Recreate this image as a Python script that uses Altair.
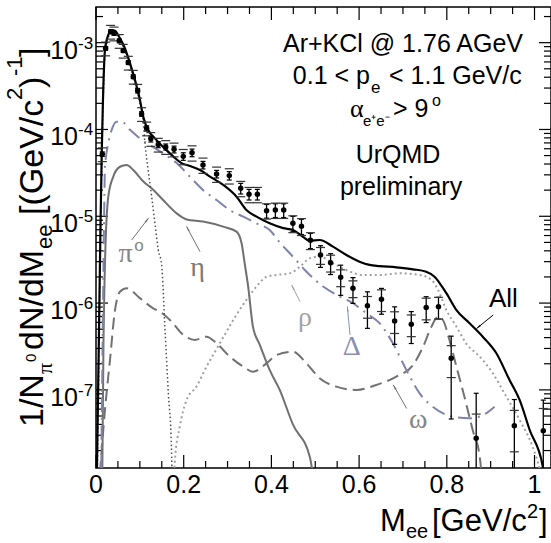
import math
import altair as alt
import pandas as pd

# ---------------- data ----------------
# "All" (black solid)
all_x = [0.002, 0.006, 0.010, 0.013, 0.0153, 0.0205, 0.028, 0.0358, 0.0433, 0.0547,
         0.066, 0.0774, 0.0888, 0.1002, 0.1077, 0.119, 0.1344, 0.153, 0.176, 0.195,
         0.214, 0.237, 0.26, 0.29, 0.3205, 0.343, 0.366, 0.396, 0.427, 0.449,
         0.472, 0.487, 0.51, 0.5405, 0.571, 0.601, 0.624, 0.647, 0.685, 0.723,
         0.753, 0.772, 0.784, 0.799, 0.822, 0.852, 0.882, 0.913, 0.943, 0.966,
         0.989, 1.019, 1.025]
all_y = [1.1e-8, 2.5e-7, 6.3e-6, 5.0e-5, 1.68e-4, 8.24e-4, 1.23e-3, 1.40e-3, 1.37e-3, 1.12e-3,
         8.6e-4, 5.8e-4, 3.72e-4, 2.19e-4, 1.40e-4, 9.86e-5, 7.9e-5, 6.3e-5, 4.9e-5, 4.1e-5,
         3.8e-5, 3.41e-5, 2.86e-5, 2.30e-5, 1.68e-5, 1.18e-5, 9.9e-6, 8.3e-6, 7.3e-6, 6.95e-6,
         5.8e-6, 5.24e-6, 5.33e-6, 4.47e-6, 3.58e-6, 3.0e-6, 2.75e-6, 2.67e-6, 2.58e-6, 2.45e-6,
         2.30e-6, 2.01e-6, 1.69e-6, 1.30e-6, 8.3e-7, 5.85e-7, 4.1e-7, 2.64e-7, 1.30e-7, 7.66e-8,
         3.45e-8, 1.3e-8, 1e-9]

# pi0 Dalitz (dark dotted)
pi0_x = [0.003, 0.007, 0.010, 0.013, 0.0155, 0.0205, 0.028, 0.0358, 0.0433, 0.0547,
         0.066, 0.0774, 0.0888, 0.1002, 0.1077, 0.1116, 0.119, 0.127, 0.1344, 0.142,
         0.1496, 0.157, 0.165, 0.172, 0.176]
pi0_y = [1e-8, 3.2e-7, 5e-6, 4e-5, 1.41e-4, 7.6e-4, 1.15e-3, 1.32e-3, 1.29e-3, 1.06e-3,
         8.1e-4, 5.5e-4, 3.47e-4, 2.0e-4, 1.2e-4, 6.9e-5, 3.4e-5, 1.68e-5, 8.3e-6, 4.1e-6,
         2.8e-6, 5.4e-7, 9.1e-8, 2.2e-8, 1e-9]

# eta (grey solid)
eta_x = [0.0145, 0.017, 0.0205, 0.028, 0.0394, 0.0547, 0.07, 0.085, 0.108, 0.131,
         0.153, 0.184, 0.2066, 0.244, 0.29, 0.3205, 0.332, 0.339, 0.347, 0.358,
         0.3736, 0.396, 0.419, 0.449, 0.4875, 0.515]
eta_y = [1.26e-8, 3.2e-7, 2.88e-6, 1.68e-5, 2.86e-5, 3.72e-5, 3.9e-5, 3.41e-5, 2.51e-5, 2.01e-5,
         1.54e-5, 1.08e-5, 9.2e-6, 8.7e-6, 7.6e-6, 6.65e-6, 4.9e-6, 2.88e-6, 1.55e-6, 5.3e-7,
         3.3e-7, 1.7e-7, 1.0e-7, 4.0e-8, 1.7e-8, 1e-9]

# Delta (blue-grey dash-dot)
delta_x = [0.012, 0.015, 0.018, 0.0205, 0.028, 0.0358, 0.047, 0.0585, 0.0774, 0.1,
           0.123, 0.153, 0.184, 0.214, 0.244, 0.275, 0.305, 0.336, 0.366, 0.396,
           0.419, 0.449, 0.48, 0.518, 0.556, 0.586, 0.617, 0.647, 0.677, 0.708,
           0.738, 0.768, 0.814, 0.852, 0.882, 0.909]
delta_y = [1.26e-8, 3.2e-7, 6.3e-6, 3.7e-5, 6.9e-5, 9.9e-5, 1.23e-4, 1.23e-4, 9.9e-5, 7.9e-5,
           6.6e-5, 5.3e-5, 4.1e-5, 2.86e-5, 2.01e-5, 1.54e-5, 1.18e-5, 9.9e-6, 8.3e-6, 6.95e-6,
           5.0e-6, 3.43e-6, 2.3e-6, 1.55e-6, 1.19e-6, 9.95e-7, 7.6e-7, 5.85e-7, 3.44e-7, 1.69e-7,
           9.1e-8, 6.4e-8, 4.9e-8, 4.7e-8, 5.1e-8, 6.4e-8]

# omega (grey dashed)
omega_x = [0.009, 0.0205, 0.0319, 0.0433, 0.0547, 0.07, 0.1, 0.1305, 0.1458, 0.1686,
           0.199, 0.2255, 0.252, 0.275, 0.305, 0.336, 0.358, 0.389, 0.412, 0.449,
           0.48, 0.51, 0.548, 0.594, 0.639, 0.685, 0.723, 0.746, 0.765, 0.78,
           0.791, 0.806, 0.822, 0.84, 0.859, 0.875, 0.885]
omega_y = [1.1e-8, 5.9e-8, 2.21e-7, 8.3e-7, 1.35e-6, 1.48e-6, 1.14e-6, 8.7e-7, 7.96e-7, 6.4e-7,
           4.3e-7, 3.76e-7, 4.1e-7, 3.44e-7, 2.42e-7, 1.85e-7, 1.62e-7, 2.02e-7, 2.52e-7, 2.75e-7,
           2.02e-7, 1.36e-7, 1.09e-7, 9.98e-8, 1.14e-7, 1.42e-7, 1.94e-7, 3.15e-7, 5.35e-7, 6.97e-7,
           6.38e-7, 3.76e-7, 1.85e-7, 8.4e-8, 3.45e-8, 1.7e-8, 5e-9]

# rho (light grey dotted)
rho_x = [0.176, 0.18, 0.191, 0.2066, 0.229, 0.252, 0.2825, 0.313, 0.343, 0.366,
         0.389, 0.4116, 0.442, 0.465, 0.4875, 0.51, 0.5405, 0.571, 0.609, 0.647,
         0.692, 0.738, 0.765, 0.78, 0.799, 0.822, 0.844, 0.875, 0.905, 0.9355,
         0.966, 0.996, 1.015]
rho_y = [5e-9, 1.56e-8, 3.77e-8, 7.66e-8, 1.09e-7, 1.85e-7, 3.44e-7, 6.38e-7, 1.09e-6, 1.55e-6,
         2.01e-6, 2.11e-6, 2.2e-6, 2.62e-6, 3.28e-6, 3.43e-6, 2.87e-6, 2.4e-6, 2.11e-6, 2.11e-6,
         2.2e-6, 2.11e-6, 1.85e-6, 1.42e-6, 8.3e-7, 5.35e-7, 3.44e-7, 2.42e-7, 1.55e-7, 8.4e-8,
         4.5e-8, 2.2e-8, 1.1e-8]

# HADES data points
pts_x = [0.0144, 0.022, 0.0334, 0.041, 0.053, 0.062, 0.0736, 0.085, 0.095, 0.104,
         0.1155, 0.125, 0.142, 0.159, 0.178, 0.199, 0.219, 0.244, 0.275, 0.304,
         0.330, 0.349, 0.368, 0.389, 0.409, 0.428, 0.449, 0.4685, 0.489, 0.512,
         0.535, 0.558, 0.586, 0.619, 0.651, 0.681, 0.719, 0.753, 0.781, 0.810,
         0.867, 0.954, 1.020]
pts_y = [5.2e-5, 8.6e-4, 1.34e-3, 1.28e-3, 1.05e-3, 8.1e-4, 5.9e-4, 4.06e-4, 2.8e-4, 1.51e-4,
         1.03e-4, 7.8e-5, 6.7e-5, 6.3e-5, 5.9e-5, 4.9e-5, 5.4e-5, 3.9e-5, 3.07e-5, 2.94e-5,
         2.1e-5, 1.79e-5, 1.79e-5, 1.16e-5, 1.18e-5, 1.18e-5, 8.3e-6, 7.7e-6, 5.3e-6, 3.58e-6,
         2.92e-6, 1.98e-6, 1.48e-6, 9.3e-7, 1.11e-6, 6.2e-7, 5.7e-7, 8.9e-7, 9.1e-7, 2.31e-7,
         2.77e-8, 3.87e-8, 3.39e-8]
pts_stat = [0.06, 0.05, 0.05, 0.05, 0.05, 0.05, 0.05, 0.05, 0.06, 0.06,
            0.07, 0.08, 0.08, 0.08, 0.09, 0.10, 0.10, 0.10, 0.10, 0.11,
            0.14, 0.14, 0.14, 0.18, 0.18, 0.18, 0.20, 0.20, 0.20, 0.28,
            0.27, 0.38, 0.33, 0.45, 0.33, 0.46, 0.40, 0.33, 0.28, 0.80,
            2.3, 1.0, 1.25]
pts_sys = [0.18, 0.18, 0.18, 0.18, 0.18, 0.18, 0.18, 0.18, 0.18, 0.18,
           0.18, 0.18, 0.18, 0.18, 0.18, 0.20, 0.20, 0.20, 0.20, 0.20,
           0.20, 0.20, 0.20, 0.20, 0.20, 0.20, 0.22, 0.22, 0.22, 0.22,
           0.22, 0.22, 0.22, 0.28, 0.28, 0.28, 0.28, 0.28, 0.28, 0.40,
           0.9, 0.5, 0.8]

# axis tick values / labels
x_major = [0, 0.2, 0.4, 0.6, 0.8, 1.0]
x_labels = ["0", "0.2", "0.4", "0.6", "0.8", "1"]
x_minor = [0.05, 0.1, 0.15, 0.25, 0.3, 0.35, 0.45, 0.5, 0.55, 0.65, 0.7, 0.75, 0.85, 0.9, 0.95]
y_major = [1e-7, 1e-6, 1e-5, 1e-4, 1e-3]
y_exp = ["-7", "-6", "-5", "-4", "-3"]

# curve labels (data coordinates) and arrows (tail -> head)
lab_text = ["π", "η", "ρ", "Δ", "ω"]
lab_x = [0.0673, 0.2315, 0.4766, 0.583, 0.735]
lab_y = [3.68e-6, 2.54e-6, 6.7e-7, 3.1e-7, 4.5e-8]
lab_col = ["#858585", "#7a7a7a", "#a3a3a3", "#8a8eb8", "#858585"]

arr_x1 = [0.0814, 0.2372, 0.4652, 0.5793, 0.7085, 0.906]
arr_y1 = [5.33e-6, 3.91e-6, 1.04e-6, 4.3e-7, 6.1e-8, 7.3e-7]
arr_x2 = [0.1195, 0.2066, 0.4463, 0.5732, 0.678, 0.868]
arr_y2 = [9.5e-6, 7.6e-6, 1.61e-6, 9.1e-7, 1.14e-7, 5.1e-7]
arr_col = ["#707070", "#707070", "#a3a3a3", "#8a8eb8", "#707070", "#000000"]

# ---------------- layout ----------------
W, H = 455, 461
LEFT, TOP = 96, 7
X_MAX = 1.0376
Y_MIN, Y_MAX = 1.259e-8, 2.576e-3
SANS = "Liberation Sans"
SERIF = "Liberation Serif"

xs = alt.Scale(domain=[0, X_MAX], nice=False, zero=False)
ys = alt.Scale(type="log", domain=[Y_MIN, Y_MAX], nice=False)


def X(f="x"):
    return alt.X(f"{f}:Q", scale=xs, axis=None)


def Y(f="y"):
    return alt.Y(f"{f}:Q", scale=ys, axis=None)


LY = math.log10(Y_MAX) - math.log10(Y_MIN)


def to_px(x, y):
    return x / X_MAX * W, (math.log10(Y_MAX) - math.log10(y)) / LY * H


def from_px(px, py):
    return px / W * X_MAX, 10 ** (math.log10(Y_MAX) - py / H * LY)


dummy = pd.DataFrame({"a": [0]})
layers = []


# inward ticks on all four sides
def rules_x(vals, length):
    d = pd.DataFrame({"v": vals})
    b = alt.Chart(d).mark_rule(color="black", strokeWidth=1.2).encode(
        x=X("v"), y=alt.value(H), y2=alt.value(H - length))
    t = alt.Chart(d).mark_rule(color="black", strokeWidth=1.2).encode(
        x=X("v"), y=alt.value(0), y2=alt.value(length))
    return [b, t]


def rules_y(vals, length):
    d = pd.DataFrame({"v": vals})
    l = alt.Chart(d).mark_rule(color="black", strokeWidth=1.2).encode(
        y=Y("v"), x=alt.value(0), x2=alt.value(length))
    r = alt.Chart(d).mark_rule(color="black", strokeWidth=1.2).encode(
        y=Y("v"), x=alt.value(W), x2=alt.value(W - length))
    return [l, r]


y_minor = [k * 10.0 ** n for n in range(-8, -2) for k in range(2, 10)
           if Y_MIN < k * 10.0 ** n < Y_MAX]

layers += rules_x(x_major, 13)
layers += rules_x(x_minor, 7)
layers += rules_y(y_major, 12)
layers += rules_y(y_minor, 7)


def curve(xv, yv, color, width, dash=None):
    df = pd.DataFrame({"x": xv, "y": yv})
    kw = dict(color=color, strokeWidth=width, clip=True, interpolate="monotone")
    if dash:
        kw["strokeDash"] = dash
    return alt.Chart(df).mark_line(**kw).encode(x=X(), y=Y())


layers.append(curve(rho_x, rho_y, "#a0a0a0", 2, [2, 3]))
layers.append(curve(omega_x, omega_y, "#727272", 2, [12, 6]))
layers.append(curve(eta_x, eta_y, "#707070", 2))
layers.append(curve(delta_x, delta_y, "#7f84ab", 2, [14, 6, 2, 6]))
layers.append(curve(pi0_x, pi0_y, "#505050", 1.5, [1.5, 2.5]))
layers.append(curve(all_x, all_y, "black", 2.2))

# data points with statistical bars and systematic ticks
pts = pd.DataFrame({"x": pts_x, "y": pts_y, "stat": pts_stat, "sys": pts_sys})
pts["lo"] = (pts["y"] * (1 - pts["stat"])).clip(lower=1e-11)
pts["hi"] = pts["y"] * (1 + pts["stat"])
layers.append(alt.Chart(pts).mark_rule(color="black", strokeWidth=1.3, clip=True).encode(
    x=X(), y=Y("lo"), y2="hi:Q"))

caps = pd.concat([pd.DataFrame({"x": pts["x"], "v": pts["hi"]}),
                  pd.DataFrame({"x": pts["x"], "v": pts["lo"]})])
caps = caps[caps["v"] > Y_MIN * 1.05]
layers.append(alt.Chart(caps).mark_tick(orient="horizontal", size=5, thickness=1.2,
                                        color="black", opacity=1, clip=True).encode(
    x=X(), y=Y("v")))

sysd = pd.concat([pd.DataFrame({"x": pts["x"], "v": pts["y"] * (1 + pts["sys"])}),
                  pd.DataFrame({"x": pts["x"], "v": pts["y"] * (1 - pts["sys"])})])
sysd = sysd[sysd["v"] > Y_MIN * 1.05]
layers.append(alt.Chart(sysd).mark_tick(orient="horizontal", size=9, thickness=1.2,
                                        color="#333333", opacity=1, clip=True).encode(
    x=X(), y=Y("v")))

layers.append(alt.Chart(pts).mark_circle(size=30, color="black", opacity=1).encode(
    x=X(), y=Y()))

# arrows
rows = []
for x1, y1, x2, y2, c in zip(arr_x1, arr_y1, arr_x2, arr_y2, arr_col):
    p1 = to_px(x1, y1)
    p2 = to_px(x2, y2)
    dx, dy = p2[0] - p1[0], p2[1] - p1[1]
    L = math.hypot(dx, dy)
    ang = math.degrees(math.atan2(dx, -dy)) % 360
    hc = from_px(p2[0] - 3 * dx / L, p2[1] - 3 * dy / L)
    rows.append({"x1": x1, "y1": y1, "x2": x2, "y2": y2, "hx": hc[0], "hy": hc[1],
                 "ang": ang, "c": c})
arr = pd.DataFrame(rows)
layers.append(alt.Chart(arr).mark_rule(strokeWidth=1).encode(
    x=X("x1"), y=Y("y1"), x2="x2:Q", y2="y2:Q", color=alt.Color("c:N", scale=None)))
layers.append(alt.Chart(arr).mark_point(shape="wedge", filled=True, size=45, opacity=1).encode(
    x=X("hx"), y=Y("hy"), angle=alt.Angle("ang:Q", scale=None),
    color=alt.Color("c:N", scale=None)))

# curve labels
labs = pd.DataFrame({"x": lab_x, "y": lab_y, "t": lab_text, "c": lab_col})
layers.append(alt.Chart(labs).mark_text(font=SERIF, fontSize=28, align="center",
                                        baseline="middle").encode(
    x=X(), y=Y(), text="t:N", color=alt.Color("c:N", scale=None)))
sup_o = pd.DataFrame({"x": [0.098], "y": [4.55e-6], "t": ["o"]})
layers.append(alt.Chart(sup_o).mark_text(font=SANS, fontSize=17, align="center",
                                         baseline="middle", color="#858585").encode(
    x=X(), y=Y(), text="t:N"))
all_lab = pd.DataFrame({"x": [0.929], "y": [1.11e-6], "t": ["All"]})
layers.append(alt.Chart(all_lab).mark_text(font=SANS, fontSize=26, align="center",
                                           baseline="middle", color="black").encode(
    x=X(), y=Y(), text="t:N"))

# x tick labels
xlab = pd.DataFrame({"v": x_major, "t": x_labels})
layers.append(alt.Chart(xlab).mark_text(font=SANS, fontSize=25, align="center",
                                        baseline="alphabetic", color="black").encode(
    x=X("v"), y=alt.value(H + 25), text="t:N"))

# y tick labels: 10 with superscript exponent
ylab = pd.DataFrame({"v": y_major, "b": ["10"] * len(y_major), "e": y_exp})
layers.append(alt.Chart(ylab).mark_text(font=SANS, fontSize=25, align="right",
                                        baseline="alphabetic", dy=16, color="black").encode(
    x=alt.value(-18), y=Y("v"), text="b:N"))
layers.append(alt.Chart(ylab).mark_text(font=SANS, fontSize=17, align="left",
                                        baseline="alphabetic", dy=6, color="black").encode(
    x=alt.value(-18), y=Y("v"), text="e:N"))


def txt(s, px, py, fs, align="left", font=SANS, color="black", angle=0):
    kw = dict(text=s, align=align, baseline="alphabetic", font=font, fontSize=fs,
              color=color)
    if angle:
        kw["angle"] = angle
    return alt.Chart(dummy).mark_text(**kw).encode(
        x=alt.value(px - LEFT), y=alt.value(py - TOP))


# header block
layers += [
    txt("Ar+KCl @ 1.76 AGeV", 403, 52, 25, align="center"),
    txt("0.1 < p", 370, 84, 25, align="right"),
    txt("e", 371, 93, 17),
    txt("< 1.1 GeV/c", 389, 84, 25),
    txt("α", 350, 117, 26, font=SERIF),
    txt("e⁺e⁻", 363, 126, 15),
    txt("> 9", 393, 117, 25),
    txt("o", 432, 106, 16),
    txt("UrQMD", 398, 163, 25, align="center"),
    txt("preliminary", 401, 195, 25, align="center"),
]

# x axis title
layers += [
    txt("M", 380, 531, 31),
    txt("ee", 406, 538, 20),
    txt("[GeV/c", 432, 531, 31),
    txt("2", 527, 518, 20),
    txt("]", 539, 531, 31),
]

# y axis title (rotated)
layers += [
    txt("1/N", 43, 427, 34, angle=270),
    txt("π", 52, 374, 22, font=SERIF, angle=270),
    txt("0", 36, 362, 15, angle=270),
    txt("dN/dM", 43, 350, 34, angle=270),
    txt("ee", 52, 249, 22, angle=270),
    txt("[(GeV/c", 43, 215, 34, angle=270),
    txt("2", 22, 100, 22, angle=270),
    txt(")", 43, 88, 34, angle=270),
    txt("-1", 22, 76, 22, angle=270),
    txt("]", 43, 57, 34, angle=270),
]

chart = alt.layer(*layers).properties(
    width=W, height=H,
    autosize=alt.AutoSizeParams(type="none"),
    padding={"left": LEFT, "top": TOP, "right": 0, "bottom": 543 - TOP - H},
    background="white",
).configure_view(stroke="black", strokeWidth=1.5)

chart.save("out.html", embed_options={"renderer": "svg", "actions": False})
